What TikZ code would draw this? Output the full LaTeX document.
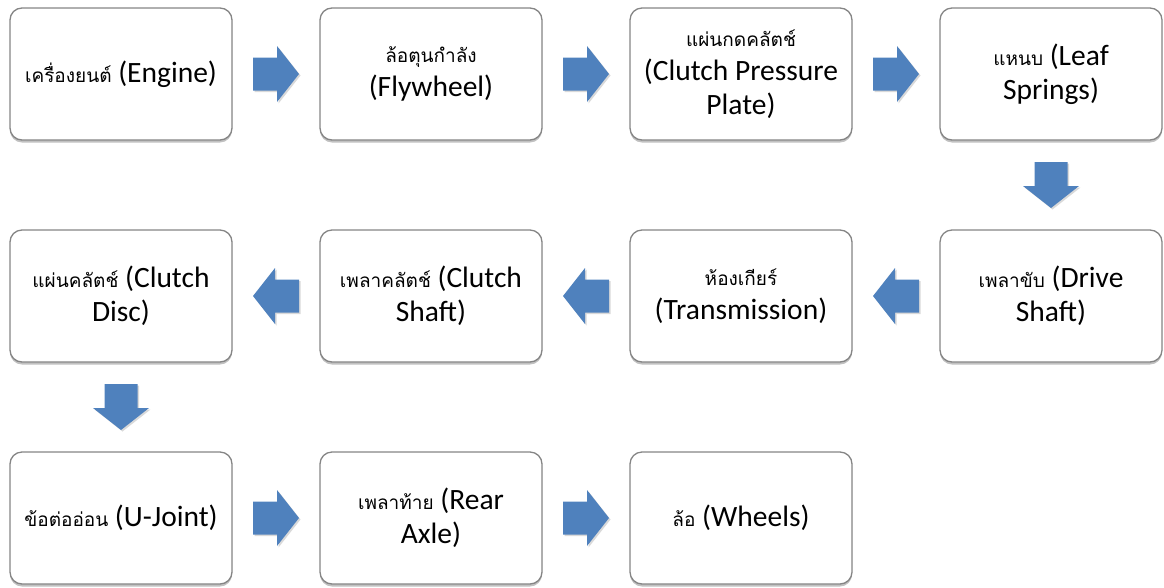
\documentclass[tikz,border=0pt]{standalone}
\usepackage{fontspec}
\setmainfont{Carlito}
\newfontfamily\thaifont[Script=Thai]{Loma}
\usetikzlibrary{calc,shadows}

\definecolor{boxline}{HTML}{858585}
\definecolor{flowblue}{HTML}{4F81BD}

\tikzset{
  stage/.style={draw=boxline, line width=1.3pt, fill=white, rounded corners=12pt,
    minimum width=222pt, minimum height=132pt, align=center, inner sep=0pt,
    font=\fontsize{29.5}{34}\selectfont,
    drop shadow={shadow xshift=0pt, shadow yshift=-2.5pt, opacity=0.35, fill=black!70}},
  flow/.style={fill=flowblue, draw=none,
    drop shadow={shadow xshift=1.5pt, shadow yshift=-1.5pt, opacity=0.25, fill=black!60}},
}

% Thai part of a label, set a little smaller than the Latin part
\newcommand\thtxt[1]{{\thaifont\fontsize{19}{34}\selectfont #1}}

% block arrows placed midway between two stages
\newcommand\flowright[2]{\fill[flow, shift={($(#1.east)!0.5!(#2.west)$)}]
  (-23,-16.5) -- (1,-16.5) -- (1,-28) -- (23,0) -- (1,28) -- (1,16.5) -- (-23,16.5) -- cycle;}
\newcommand\flowleft[2]{\fill[flow, shift={($(#1.west)!0.5!(#2.east)$)}]
  (23,-16.5) -- (-1,-16.5) -- (-1,-28) -- (-23,0) -- (-1,28) -- (-1,16.5) -- (23,16.5) -- cycle;}
\newcommand\flowdown[2]{\fill[flow, shift={($(#1.south)!0.5!(#2.north)$)}]
  (-16.5,-23) -- (16.5,-23) -- (16.5,1) -- (28,1) -- (0,23) -- (-28,1) -- (-16.5,1) -- cycle;}

\begin{document}
\begin{tikzpicture}[x=1pt, y=-1pt]
  \useasboundingbox (0,0) rectangle (1164,587);

  % first row, left to right
  \node[stage] (engine)   at (121,74)  {\thtxt{เครื่องยนต์} (Engine)};
  \node[stage] (flywheel) at (431,74)  {\thtxt{ล้อตุนกำลัง}\\(Flywheel)};
  \node[stage] (pressure) at (741,74)  {\thtxt{แผ่นกดคลัตช์}\\(Clutch Pressure\\Plate)};
  \node[stage] (springs)  at (1051,74) {\thtxt{แหนบ} (Leaf\\Springs)};

  % second row, right to left
  \node[stage] (drive)    at (1051,296) {\thtxt{เพลาขับ} (Drive\\Shaft)};
  \node[stage] (gearbox)  at (741,296)  {\thtxt{ห้องเกียร์}\\(Transmission)};
  \node[stage] (cshaft)   at (431,296)  {\thtxt{เพลาคลัตช์} (Clutch\\Shaft)};
  \node[stage] (disc)     at (121,296)  {\thtxt{แผ่นคลัตช์} (Clutch\\Disc)};

  % third row, left to right
  \node[stage] (ujoint)   at (121,518)  {\thtxt{ข้อต่ออ่อน} (U-Joint)};
  \node[stage] (axle)     at (431,518)  {\thtxt{เพลาท้าย} (Rear\\Axle)};
  \node[stage] (wheels)   at (741,518)  {\thtxt{ล้อ} (Wheels)};

  \flowright{engine}{flywheel}
  \flowright{flywheel}{pressure}
  \flowright{pressure}{springs}
  \flowdown{springs}{drive}
  \flowleft{drive}{gearbox}
  \flowleft{gearbox}{cshaft}
  \flowleft{cshaft}{disc}
  \flowdown{disc}{ujoint}
  \flowright{ujoint}{axle}
  \flowright{axle}{wheels}
\end{tikzpicture}
\end{document}
